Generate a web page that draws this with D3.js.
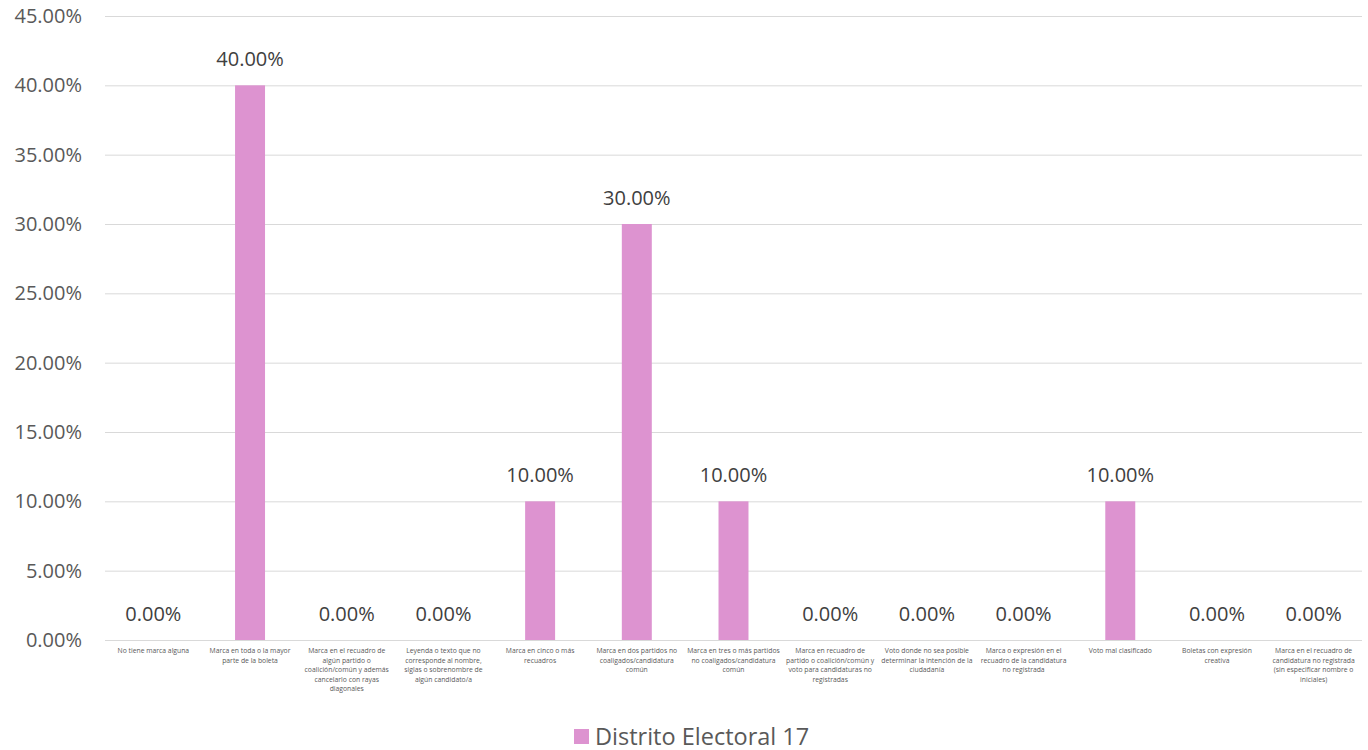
<!DOCTYPE html>
<html><head><meta charset="utf-8">
<script src="https://cdn.jsdelivr.net/npm/d3@7"></script>
<style>body{margin:0;background:#fff;}svg{display:block;font-family:"Open Sans","Noto Sans",sans-serif;}</style>
</head><body><svg id="c" width="1368" height="750"></svg>
<script>
const categories = [
["No tiene marca alguna"],
["Marca en toda o la mayor","parte de la boleta"],
["Marca en el recuadro de","algún partido o","coalición/común y además","cancelarlo con rayas","diagonales"],
["Leyenda o texto que no","corresponde al nombre,","siglas o sobrenombre de","algún candidato/a"],
["Marca en cinco o más","recuadros"],
["Marca en dos partidos no","coaligados/candidatura","común"],
["Marca en tres o más partidos","no coaligados/candidatura","común"],
["Marca en recuadro de","partido o coalición/común y","voto para candidaturas no","registradas"],
["Voto donde no sea posible","determinar la intención de la","ciudadanía"],
["Marca o expresión en el","recuadro de la candidatura","no registrada"],
["Voto mal clasificado"],
["Boletas con expresión","creativa"],
["Marca en el recuadro de","candidatura no registrada","(sin especificar nombre o","iniciales)"]
];
const values = [0, 0.40, 0, 0, 0.10, 0.30, 0.10, 0, 0, 0, 0.10, 0, 0];
const yTicks = [0,0.05,0.10,0.15,0.20,0.25,0.30,0.35,0.40,0.45];
const seriesName = "Distrito Electoral 17";
const barColor = "#DD93D0";

(function(){
const svg = d3.select("#c");
const pL = 105, pR = 1362, pT = 16, pB = 640;
const x = d3.scaleBand().domain(d3.range(categories.length)).range([pL, pR]).paddingInner(0.69).paddingOuter(0.345);
const y = d3.scaleLinear().domain([0, 0.45]).range([pB, pT]);
const fmt = d => (d*100).toFixed(2) + "%";

svg.append("g").selectAll("line").data(yTicks).join("line")
  .attr("x1", pL).attr("x2", pR).attr("y1", d=>y(d)+0.5).attr("y2", d=>y(d)+0.5)
  .attr("stroke", "#d9d9d9").attr("stroke-width", 1);

svg.append("g").selectAll("text").data(yTicks).join("text")
  .attr("x", 82).attr("y", d=>y(d)).attr("dy","0.35em").attr("text-anchor","end")
  .attr("font-size", 20).attr("fill", "#595959").text(fmt);

svg.append("g").selectAll("rect").data(values).join("rect")
  .attr("x", (d,i)=>x(i)).attr("width", x.bandwidth())
  .attr("y", d=>y(d)).attr("height", d=>pB - y(d)).attr("fill", barColor);

svg.append("g").selectAll("text").data(values).join("text")
  .attr("x", (d,i)=>x(i)+x.bandwidth()/2).attr("y", d=>y(d)-19)
  .attr("text-anchor","middle").attr("font-size", 20).attr("fill","#404040").text(fmt);

const lab = svg.append("g").selectAll("text").data(categories).join("text")
  .attr("x", (d,i)=>x(i)+x.bandwidth()/2).attr("y", 653)
  .attr("text-anchor","middle").attr("font-size", 6.8).attr("fill","#595959");
lab.selectAll("tspan").data(d=>d).join("tspan")
  .attr("x", function(){return d3.select(this.parentNode).attr("x");})
  .attr("dy", (d,i)=> i===0 ? 0 : 9.6).text(d=>d);

const lg = svg.append("g");
lg.append("rect").attr("x", 574).attr("y", 729).attr("width", 15).attr("height", 15).attr("fill", barColor);
lg.append("text").attr("x", 595).attr("y", 744.5).attr("font-size", 23.5).attr("fill","#595959").text(seriesName);
})();
</script></body></html>
